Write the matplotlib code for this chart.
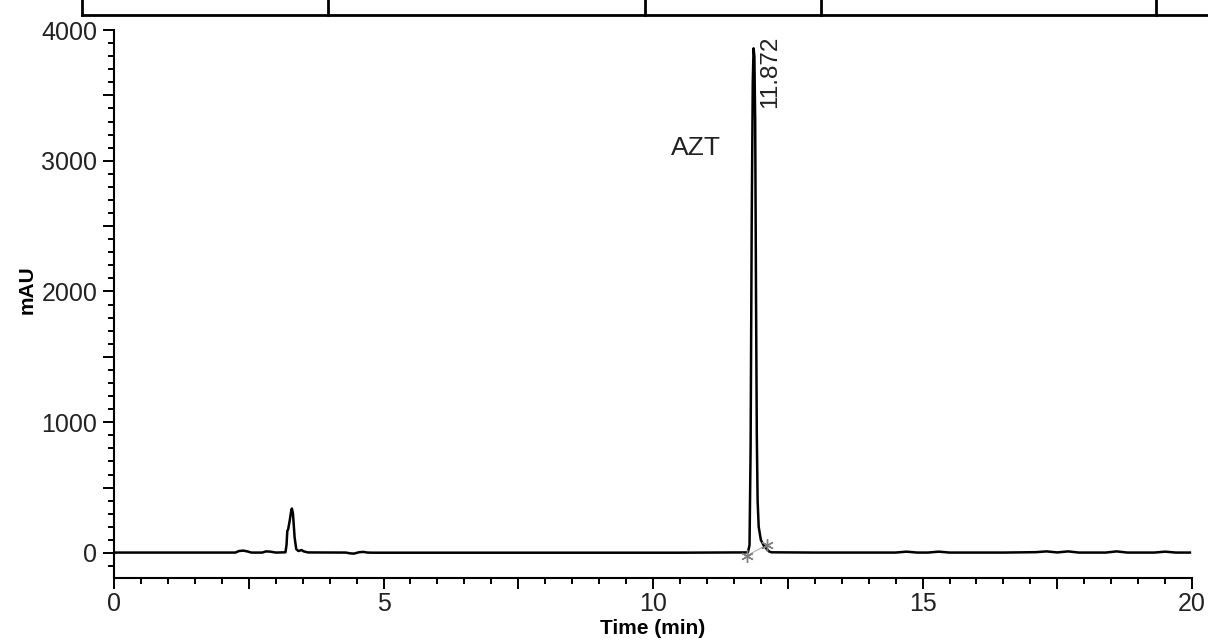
import matplotlib.pyplot as plt
from matplotlib.lines import Line2D
from matplotlib.ticker import MultipleLocator, FuncFormatter

plt.rcParams['font.family'] = ['Liberation Sans', 'DejaVu Sans']

# chromatogram trace (time in min, signal in mAU)
time = [0.0, 2.25, 2.32, 2.40, 2.47, 2.55, 2.75, 2.82, 2.90, 3.00, 3.18,
        3.20, 3.215, 3.23, 3.26, 3.29, 3.30, 3.32, 3.35, 3.38, 3.42, 3.48,
        3.52, 3.60, 4.30, 4.38, 4.45, 4.55, 4.63, 4.70, 4.80, 6.0, 10.5,
        11.0, 11.5, 11.70, 11.76, 11.79, 11.81, 11.83, 11.85, 11.865,
        11.88, 11.895, 11.91, 11.925, 11.94, 11.96, 12.00, 12.05, 12.10,
        12.15, 12.20, 13.0, 14.5, 14.7, 14.9, 15.1, 15.3, 15.5, 16.5, 17.1,
        17.3, 17.5, 17.7, 17.9, 18.4, 18.6, 18.8, 19.3, 19.5, 19.7, 19.96]
mau = [3, 3, 15, 18, 12, 3, 3, 12, 10, 3, 5,
       60, 170, 180, 250, 330, 340, 300, 120, 30, 15, 22,
       12, 4, 3, -3, -5, 6, 8, 3, 2, 2, 2,
       3, 4, 4, 5, 60, 800, 2500, 3600, 3860,
       3800, 3300, 2000, 900, 400, 200, 100, 60, 35,
       12, 5, 3, 3, 10, 3, 3, 10, 3, 3, 6,
       12, 4, 12, 3, 3, 12, 3, 3, 10, 3, 3]

peak_time = 11.872
peak_name = 'AZT'
# integration start / end marks
mark_time = [11.74, 12.11]
mark_mau = [-20, 60]

fig = plt.figure(figsize=(12.08, 6.43), dpi=100)
ax = fig.add_axes([0.0944, 0.1016, 0.8924, 0.8517])

ax.plot(mark_time, mark_mau, '-', color='#b0b0b0', linewidth=0.8)
ax.plot(time, mau, '-', color='black', linewidth=1.8)
ax.plot(mark_time, mark_mau, linestyle='none', marker=(6, 2, 0),
        color='#808080', markersize=9, markeredgewidth=1.0)

ax.text(12.17, 3400, f'{peak_time:.3f}', rotation=90, ha='center',
        va='bottom', fontsize=17.5, color='#222222')
ax.text(10.8, 3100, peak_name, ha='center', va='center', fontsize=19, color='#222222')

ax.set_xlim(0, 20)
ax.set_ylim(-189, 4000)
for s in ['top', 'right']:
    ax.spines[s].set_visible(False)
for s in ['left', 'bottom']:
    ax.spines[s].set_linewidth(1.5)

ax.xaxis.set_major_locator(MultipleLocator(2.5))
ax.xaxis.set_minor_locator(MultipleLocator(0.5))
ax.xaxis.set_major_formatter(FuncFormatter(lambda v, p: f'{v:g}' if v % 5 == 0 else ''))
ax.yaxis.set_major_locator(MultipleLocator(500))
ax.yaxis.set_minor_locator(MultipleLocator(100))
ax.yaxis.set_major_formatter(FuncFormatter(lambda v, p: f'{v:g}' if v % 1000 == 0 else ''))
ax.tick_params(which='major', direction='out', length=8, width=1.4,
               labelsize=18, labelcolor='#222222')
ax.tick_params(which='minor', direction='out', length=4, width=1.4)
ax.tick_params(axis='x', which='major', pad=2)
ax.tick_params(axis='y', which='major', pad=4)

ax.set_xlabel('Time (min)', fontsize=15, fontweight='bold')
ax.set_ylabel('mAU', fontsize=15, fontweight='bold')
ax.xaxis.set_label_coords(0.5, -0.075)
ax.yaxis.set_label_coords(-0.072, 0.525)

# frame lines of the table above the chart (figure pixels)
border_y = 1 - 14.5 / 643
fig.add_artist(Line2D([82 / 1208, 1], [border_y, border_y], color='black', linewidth=2))
for px in [82, 328, 645, 821, 1156]:
    fig.add_artist(Line2D([px / 1208, px / 1208], [border_y, 1], color='black', linewidth=2))

fig.savefig('out.png', dpi=100)
